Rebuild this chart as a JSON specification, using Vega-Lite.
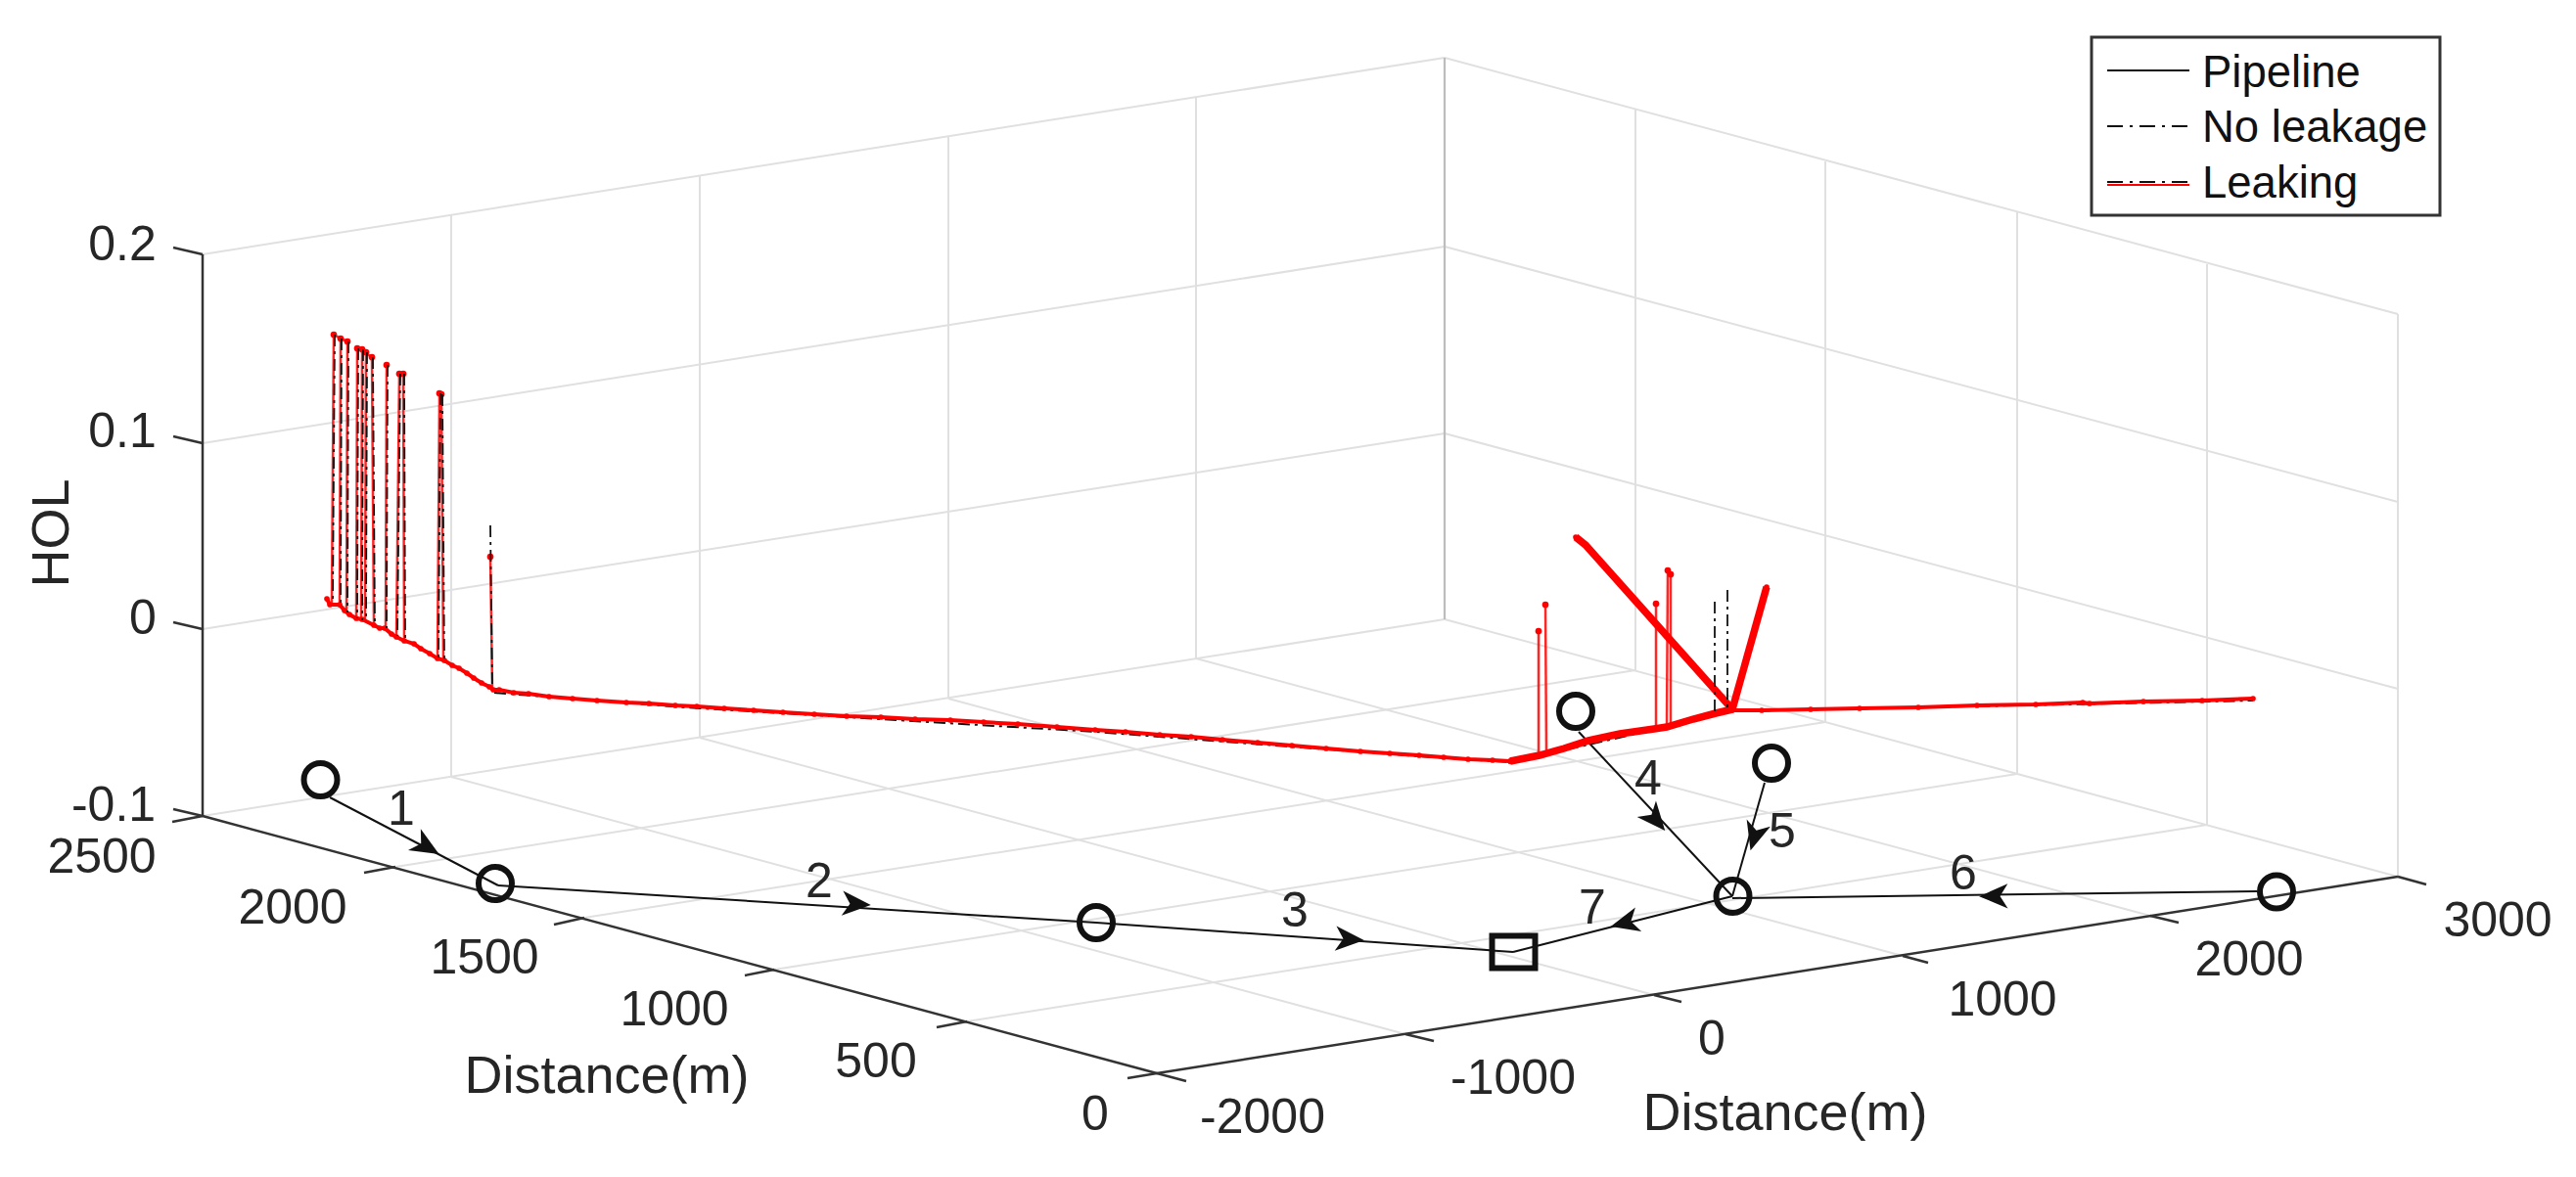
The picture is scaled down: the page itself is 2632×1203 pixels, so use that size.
{"$schema":"https://vega.github.io/schema/vega-lite/v6.json","width":2632,"height":1203,"autosize":{"type":"fit","contains":"padding"},"padding":0,"background":"white","config":{"view":{"stroke":null},"text":{"font":"Liberation Sans"}},
"resolve":{"scale":{"color":"independent","strokeWidth":"independent","strokeDash":"independent"}},
"datasets":{
"frame":[
{"kind":"grid","x":461,"y":220,"x2":461,"y2":794},{"kind":"grid","x":715,"y":180,"x2":715,"y2":754},{"kind":"grid","x":969,"y":140,"x2":969,"y2":714},{"kind":"grid","x":1222,"y":100,"x2":1222,"y2":673},
{"kind":"grid","x":207,"y":260,"x2":1476,"y2":59},{"kind":"grid","x":207,"y":453,"x2":1476,"y2":252},{"kind":"grid","x":207,"y":643,"x2":1476,"y2":443},{"kind":"grid","x":207,"y":834,"x2":1476,"y2":633},
{"kind":"grid","x":1671,"y":112,"x2":1671,"y2":685},{"kind":"grid","x":1865,"y":165,"x2":1865,"y2":738},{"kind":"grid","x":2061,"y":217,"x2":2061,"y2":791},{"kind":"grid","x":2255,"y":270,"x2":2255,"y2":843},{"kind":"grid","x":2450,"y":321,"x2":2450,"y2":896},
{"kind":"grid","x":1476,"y":59,"x2":2450,"y2":321},{"kind":"grid","x":1476,"y":252,"x2":2450,"y2":513},{"kind":"grid","x":1476,"y":443,"x2":2450,"y2":704},{"kind":"grid","x":1476,"y":633,"x2":2450,"y2":896},
{"kind":"grid","x":1436,"y":1057,"x2":461,"y2":794},{"kind":"grid","x":1690,"y":1017,"x2":715,"y2":754},{"kind":"grid","x":1944,"y":977,"x2":969,"y2":714},{"kind":"grid","x":2197,"y":936,"x2":1222,"y2":673},
{"kind":"grid","x":404,"y":886,"x2":1671,"y2":685},{"kind":"grid","x":597,"y":938,"x2":1865,"y2":738},{"kind":"grid","x":791,"y":991,"x2":2061,"y2":791},{"kind":"grid","x":988,"y":1044,"x2":2255,"y2":843},
{"kind":"corner","x":1476,"y":59,"x2":1476,"y2":633},
{"kind":"axis","x":207,"y":260,"x2":207,"y2":834},{"kind":"axis","x":207,"y":834,"x2":1182,"y2":1097},{"kind":"axis","x":1182,"y":1097,"x2":2450,"y2":896},
{"kind":"axis","x":207,"y":260,"x2":177,"y2":253},{"kind":"axis","x":207,"y":453,"x2":177,"y2":446},{"kind":"axis","x":207,"y":643,"x2":177,"y2":636},{"kind":"axis","x":207,"y":834,"x2":177,"y2":827},
{"kind":"axis","x":207,"y":834,"x2":176,"y2":840},{"kind":"axis","x":404,"y":886,"x2":372,"y2":892},{"kind":"axis","x":597,"y":938,"x2":566,"y2":945},{"kind":"axis","x":791,"y":991,"x2":761,"y2":997},{"kind":"axis","x":988,"y":1044,"x2":957,"y2":1050},{"kind":"axis","x":1182,"y":1097,"x2":1152,"y2":1102},
{"kind":"axis","x":1182,"y":1097,"x2":1212,"y2":1105},{"kind":"axis","x":1436,"y":1057,"x2":1465,"y2":1064},{"kind":"axis","x":1690,"y":1017,"x2":1718,"y2":1024},{"kind":"axis","x":1944,"y":977,"x2":1970,"y2":984},{"kind":"axis","x":2197,"y":936,"x2":2226,"y2":943},{"kind":"axis","x":2450,"y":896,"x2":2479,"y2":904}
],
"pipes":[
{"pipe":"1","x":337,"y":815},{"pipe":"1","x":509,"y":905},
{"pipe":"2","x":509,"y":905},{"pipe":"2","x":1120,"y":943},{"pipe":"2","x":1546,"y":973},
{"pipe":"4","x":1613,"y":748},{"pipe":"4","x":1770,"y":916},
{"pipe":"5","x":1803,"y":800},{"pipe":"5","x":1770,"y":916},
{"pipe":"6","x":2306,"y":911},{"pipe":"6","x":1770,"y":918},
{"pipe":"7","x":1770,"y":916},{"pipe":"7","x":1546,"y":973}
],
"nodes":[{"node":"source","x":327.5,"y":797},{"node":"source","x":1610,"y":727},{"node":"source","x":1810,"y":780},{"node":"source","x":2326,"y":911.5},{"node":"joint","x":506,"y":903},{"node":"joint","x":1120,"y":943},{"node":"joint","x":1770.5,"y":916}],
"outlet":[{"node":"outlet","x":1546.5,"y":973}],
"arrows":[{"pipe":"1","x":435,"y":865,"heading":120.6},{"pipe":"2","x":874,"y":924,"heading":93.7},{"pipe":"3","x":1378,"y":960,"heading":94},{"pipe":"4","x":1691,"y":837,"heading":139.7},{"pipe":"5","x":1793,"y":854,"heading":196.4},{"pipe":"6","x":2038,"y":916,"heading":269.5},{"pipe":"7","x":1661,"y":943,"heading":255.7}],
"labels":[
{"role":"tick","t":"0.2","x":125,"y":251},{"role":"tick","t":"0.1","x":125,"y":442},{"role":"tick","t":"0","x":146,"y":633},{"role":"tick","t":"-0.1","x":116,"y":824},
{"role":"tick","t":"2500","x":104,"y":877},{"role":"tick","t":"2000","x":299,"y":929},{"role":"tick","t":"1500","x":495,"y":980},{"role":"tick","t":"1000","x":689,"y":1033},{"role":"tick","t":"500","x":895,"y":1086},{"role":"tick","t":"0","x":1119,"y":1140},
{"role":"tick","t":"-2000","x":1290,"y":1143},{"role":"tick","t":"-1000","x":1546,"y":1103},{"role":"tick","t":"0","x":1749,"y":1063},{"role":"tick","t":"1000","x":2046,"y":1023},{"role":"tick","t":"2000","x":2298,"y":982},{"role":"tick","t":"3000","x":2552,"y":942},
{"role":"number","t":"1","x":410,"y":828},{"role":"number","t":"2","x":837,"y":902},{"role":"number","t":"3","x":1323,"y":932},{"role":"number","t":"4","x":1684,"y":797},{"role":"number","t":"5","x":1821,"y":851},{"role":"number","t":"6","x":2006,"y":894},{"role":"number","t":"7","x":1627,"y":929}],
"titles":[{"t":"Distance(m)","x":620,"y":1101},{"t":"Distance(m)","x":1824,"y":1139}],
"zTitle":[{"t":"HOL","x":54,"y":545}],
"legendText":[{"t":"Pipeline","x":2250,"y":89},{"t":"No leakage","x":2250,"y":145},{"t":"Leaking","x":2250,"y":202}],
"legendBox":[{"x":2137,"y":38,"x2":2493,"y2":220}],
"legendKeys":[{"series":"Pipeline","x":2153,"x2":2237,"y":72},{"series":"No leakage","x":2153,"x2":2237,"y":129},{"series":"Leaking","x":2153,"x2":2237,"y":189},{"series":"No leakage","x":2153,"x2":2237,"y":186}],
"noLeakTrunk":[{"seg":"a","x":505,"y":708},{"seg":"a","x":700,"y":723},{"seg":"a","x":900,"y":735},{"seg":"a","x":1119,"y":748},{"seg":"a","x":1450,"y":773},{"seg":"a","x":1543,"y":779},{"seg":"a","x":1690,"y":746},{"seg":"a","x":1770,"y":727},{"seg":"a","x":2302,"y":716}],
"noLeakSpikes":[
{"x":342,"y":342,"x2":340,"y2":616},{"x":349,"y":346,"x2":348,"y2":618},{"x":356,"y":349,"x2":355,"y2":626},{"x":366,"y":356,"x2":365,"y2":632},{"x":371,"y":357,"x2":370,"y2":634},{"x":375,"y":360,"x2":374,"y2":634},{"x":381,"y":365,"x2":383,"y2":638},{"x":396,"y":373,"x2":395,"y2":642},{"x":409,"y":382,"x2":406,"y2":650},{"x":413,"y":382,"x2":414,"y2":655},{"x":450,"y":402,"x2":448,"y2":674},{"x":452,"y":403,"x2":454,"y2":676},{"x":501,"y":537,"x2":503,"y2":704},{"x":1752,"y":615,"x2":1752,"y2":727},{"x":1765,"y":603,"x2":1765,"y2":725}],
"leakSpikes":[
{"x":341,"y":342,"x2":339,"y2":616},{"x":341,"y":342,"x2":348,"y2":346},{"x":348,"y":346,"x2":347,"y2":618},{"x":348,"y":346,"x2":355,"y2":349},{"x":355,"y":349,"x2":354,"y2":626},{"x":365,"y":356,"x2":364,"y2":632},{"x":365,"y":356,"x2":380,"y2":365},{"x":370,"y":357,"x2":369,"y2":634},{"x":374,"y":360,"x2":373,"y2":634},{"x":380,"y":365,"x2":382,"y2":638},{"x":395,"y":373,"x2":394,"y2":642},{"x":408,"y":382,"x2":405,"y2":650},{"x":412,"y":382,"x2":413,"y2":655},{"x":449,"y":402,"x2":447,"y2":674},{"x":451,"y":403,"x2":453,"y2":676},{"x":501,"y":569,"x2":503,"y2":704},
{"x":1572,"y":645,"x2":1572,"y2":772},{"x":1579,"y":618,"x2":1580,"y2":770},{"x":1692,"y":617,"x2":1692,"y2":743},{"x":1704,"y":583,"x2":1703,"y2":743},{"x":1707,"y":587,"x2":1707,"y2":740}],
"leakTips":[{"x":341,"y":342},{"x":348,"y":346},{"x":355,"y":349},{"x":365,"y":356},{"x":370,"y":357},{"x":374,"y":360},{"x":380,"y":365},{"x":395,"y":373},{"x":408,"y":382},{"x":412,"y":382},{"x":449,"y":402},{"x":451,"y":403},{"x":501,"y":569},{"x":1572,"y":645},{"x":1579,"y":618},{"x":1692,"y":617},{"x":1704,"y":583},{"x":1707,"y":587}],
"leak":[
{"part":"trunk","seg":"left","x":334,"y":612},{"part":"trunk","seg":"left","x":337,"y":618},{"part":"trunk","seg":"left","x":347,"y":618},{"part":"trunk","seg":"left","x":352,"y":624},{"part":"trunk","seg":"left","x":357,"y":628},{"part":"trunk","seg":"left","x":364,"y":632},{"part":"trunk","seg":"left","x":370,"y":633},{"part":"trunk","seg":"left","x":382,"y":639},{"part":"trunk","seg":"left","x":388,"y":642},{"part":"trunk","seg":"left","x":393,"y":642},{"part":"trunk","seg":"left","x":400,"y":648},{"part":"trunk","seg":"left","x":405,"y":651},{"part":"trunk","seg":"left","x":413,"y":655},{"part":"trunk","seg":"left","x":423,"y":658},{"part":"trunk","seg":"left","x":430,"y":663},{"part":"trunk","seg":"left","x":439,"y":668},{"part":"trunk","seg":"left","x":447,"y":673},{"part":"trunk","seg":"left","x":454,"y":675},{"part":"trunk","seg":"left","x":462,"y":680},{"part":"trunk","seg":"left","x":469,"y":683},{"part":"trunk","seg":"left","x":477,"y":688},{"part":"trunk","seg":"left","x":484,"y":693},{"part":"trunk","seg":"left","x":492,"y":698},{"part":"trunk","seg":"left","x":500,"y":702},{"part":"trunk","seg":"left","x":504,"y":705},{"part":"trunk","seg":"left","x":510,"y":705},{"part":"trunk","seg":"left","x":525,"y":708},{"part":"trunk","seg":"left","x":540,"y":709},{"part":"trunk","seg":"left","x":561,"y":712},{"part":"trunk","seg":"left","x":585,"y":714},{"part":"trunk","seg":"left","x":610,"y":716},{"part":"trunk","seg":"left","x":640,"y":718},{"part":"trunk","seg":"left","x":663,"y":719},{"part":"trunk","seg":"left","x":690,"y":721},{"part":"trunk","seg":"left","x":712,"y":722},{"part":"trunk","seg":"left","x":740,"y":724},{"part":"trunk","seg":"left","x":770,"y":726},{"part":"trunk","seg":"left","x":800,"y":728},{"part":"trunk","seg":"left","x":832,"y":730},{"part":"trunk","seg":"left","x":865,"y":732},{"part":"trunk","seg":"left","x":900,"y":733},{"part":"trunk","seg":"left","x":935,"y":735},{"part":"trunk","seg":"left","x":971,"y":736},{"part":"trunk","seg":"left","x":1005,"y":738},{"part":"trunk","seg":"left","x":1040,"y":740},{"part":"trunk","seg":"left","x":1080,"y":743},{"part":"trunk","seg":"left","x":1119,"y":746},{"part":"trunk","seg":"left","x":1150,"y":748},{"part":"trunk","seg":"left","x":1185,"y":751},{"part":"trunk","seg":"left","x":1217,"y":753},{"part":"trunk","seg":"left","x":1249,"y":756},{"part":"trunk","seg":"left","x":1285,"y":759},{"part":"trunk","seg":"left","x":1320,"y":762},{"part":"trunk","seg":"left","x":1355,"y":765},{"part":"trunk","seg":"left","x":1390,"y":768},{"part":"trunk","seg":"left","x":1420,"y":770},{"part":"trunk","seg":"left","x":1450,"y":772},{"part":"trunk","seg":"left","x":1475,"y":774},{"part":"trunk","seg":"left","x":1500,"y":776},{"part":"trunk","seg":"left","x":1525,"y":777},{"part":"trunk","seg":"left","x":1543,"y":778},
{"part":"trunk","seg":"right","x":1770,"y":726},{"part":"trunk","seg":"right","x":1800,"y":726},{"part":"trunk","seg":"right","x":1850,"y":725},{"part":"trunk","seg":"right","x":1900,"y":724},{"part":"trunk","seg":"right","x":1960,"y":723},{"part":"trunk","seg":"right","x":2020,"y":721},{"part":"trunk","seg":"right","x":2080,"y":720},{"part":"trunk","seg":"right","x":2128,"y":718},{"part":"trunk","seg":"right","x":2135,"y":719},{"part":"trunk","seg":"right","x":2190,"y":717},{"part":"trunk","seg":"right","x":2250,"y":716},{"part":"trunk","seg":"right","x":2302,"y":714},
{"part":"branch","seg":"mid","x":1543,"y":778},{"part":"branch","seg":"mid","x":1573,"y":772},{"part":"branch","seg":"mid","x":1598,"y":765},{"part":"branch","seg":"mid","x":1623,"y":757},{"part":"branch","seg":"mid","x":1655,"y":750},{"part":"branch","seg":"mid","x":1690,"y":745},{"part":"branch","seg":"mid","x":1703,"y":743},{"part":"branch","seg":"mid","x":1730,"y":735},{"part":"branch","seg":"mid","x":1753,"y":729},{"part":"branch","seg":"mid","x":1770,"y":725},
{"part":"branch","seg":"b4","x":1770,"y":725},{"part":"branch","seg":"b4","x":1620,"y":557},{"part":"branch","seg":"b4","x":1610,"y":549},
{"part":"branch","seg":"b5","x":1770,"y":725},{"part":"branch","seg":"b5","x":1805,"y":600}
]},
"encoding":{"x":{"field":"x","type":"quantitative","scale":{"domain":[0,2632],"nice":false,"zero":false},"axis":null},"y":{"field":"y","type":"quantitative","scale":{"domain":[1203,0],"nice":false,"zero":false},"axis":null}},
"layer":[
{"data":{"name":"frame"},"mark":{"type":"rule"},"encoding":{"x2":{"field":"x2"},"y2":{"field":"y2"},"color":{"field":"kind","type":"nominal","scale":{"domain":["grid","corner","axis"],"range":["#e0e0e0","#bdbdbd","#333333"]},"legend":null},"strokeWidth":{"field":"kind","type":"nominal","scale":{"domain":["grid","corner","axis"],"range":[2,2.5,2]},"legend":null}}},
{"data":{"name":"pipes"},"mark":{"type":"line","color":"#111111","strokeWidth":2},"encoding":{"detail":{"field":"pipe"},"order":{"value":null}}},
{"data":{"name":"nodes"},"mark":{"type":"point","shape":"circle","size":1156,"stroke":"#111111","strokeWidth":6,"fill":null,"opacity":1}},
{"data":{"name":"outlet"},"mark":{"type":"point","shape":"M-1,-0.75L1,-0.75L1,0.75L-1,0.75Z","size":1936,"stroke":"#111111","strokeWidth":6,"fill":null,"opacity":1}},
{"data":{"name":"arrows"},"mark":{"type":"point","shape":"M0,-1L0.8,0.85L0,0.35L-0.8,0.85Z","size":1000,"filled":true,"color":"#111111","opacity":1},"encoding":{"angle":{"field":"heading","type":"quantitative","scale":{"domain":[0,360],"range":[0,360]}}}},
{"data":{"name":"noLeakTrunk"},"mark":{"type":"line","color":"#111111","strokeWidth":2,"strokeDash":[12,5,3,5]},"encoding":{"detail":{"field":"seg"},"order":{"value":null}}},
{"data":{"name":"leakSpikes"},"mark":{"type":"rule","color":"#ff0000","strokeWidth":2.5,"opacity":0.85},"encoding":{"x2":{"field":"x2"},"y2":{"field":"y2"}}},
{"data":{"name":"leakTips"},"mark":{"type":"point","shape":"circle","size":45,"filled":true,"color":"#ff0000","opacity":1}},
{"data":{"name":"leak"},"mark":{"type":"line","color":"#ff0000"},"encoding":{"detail":{"field":"seg"},"order":{"value":null},"strokeWidth":{"field":"part","type":"nominal","scale":{"domain":["trunk","branch"],"range":[4,7.5]},"legend":null}}},
{"data":{"name":"leak"},"mark":{"type":"point","shape":"circle","size":32,"filled":true,"color":"#ff0000","opacity":1}},
{"data":{"name":"noLeakSpikes"},"mark":{"type":"rule","color":"#111111","strokeWidth":1.8,"strokeDash":[12,5,3,5]},"encoding":{"x2":{"field":"x2"},"y2":{"field":"y2"}}},
{"data":{"name":"labels"},"mark":{"type":"text","fontSize":50,"align":"center","baseline":"middle","color":"#262626"},"encoding":{"text":{"field":"t"}}},
{"data":{"name":"titles"},"mark":{"type":"text","fontSize":54,"align":"center","baseline":"middle","color":"#262626"},"encoding":{"text":{"field":"t"}}},
{"data":{"name":"zTitle"},"mark":{"type":"text","fontSize":54,"angle":270,"align":"center","baseline":"middle","color":"#262626"},"encoding":{"text":{"field":"t"}}},
{"data":{"name":"legendBox"},"mark":{"type":"rect","fill":"white","stroke":"#333333","strokeWidth":3},"encoding":{"x2":{"field":"x2"},"y2":{"field":"y2"}}},
{"data":{"name":"legendKeys"},"mark":{"type":"rule"},"encoding":{"x2":{"field":"x2"},"color":{"field":"series","type":"nominal","scale":{"domain":["Pipeline","No leakage","Leaking"],"range":["#111111","#111111","#ff0000"]},"legend":null},"strokeWidth":{"field":"series","type":"nominal","scale":{"domain":["Pipeline","No leakage","Leaking"],"range":[2,2,6.5]},"legend":null},"strokeDash":{"field":"series","type":"nominal","scale":{"domain":["Pipeline","No leakage","Leaking"],"range":[[1,0],[16,7,3,7],[1,0]]},"legend":null}}},
{"data":{"name":"legendText"},"mark":{"type":"text","fontSize":45.5,"align":"left","baseline":"alphabetic","color":"#111111"},"encoding":{"text":{"field":"t"}}}
]}
